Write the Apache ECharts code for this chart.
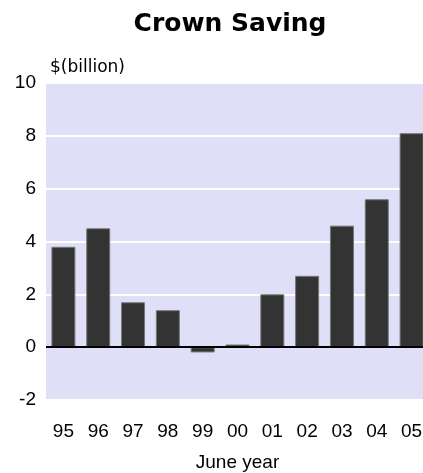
<!DOCTYPE html>
<html lang="en">

<head>
    <meta charset="UTF-8">
    <title>Crown Saving</title>
    <style>
        html, body { margin: 0; padding: 0; background: #fff; }
        #box { width: 423px; height: 473px; }
    </style>
    <script src="https://cdn.jsdelivr.net/npm/echarts@6/dist/echarts.min.js"></script>
</head>

<body>
    <div id="box"></div>
    <script>
        // June years and Crown saving ($billion)
        const years = ['95', '96', '97', '98', '99', '00', '01', '02', '03', '04', '05'];
        const saving = [3.8, 4.5, 1.7, 1.4, -0.2, 0.1, 2.0, 2.7, 4.6, 5.6, 8.1];
        const yTicks = { min: -2, max: 10, step: 2 };

        (function () {
            let chart = echarts.init(box);
            let font = '"Liberation Sans", Arial, sans-serif';

            let option = {
                animation: false,
                title: [{
                    text: 'Crown Saving',
                    left: 225,
                    textAlign: 'center',
                    top: 7,
                    textStyle: { fontFamily: '"DejaVu Sans", sans-serif', fontSize: 25, fontWeight: 'bold', color: '#000' }
                }, {
                    text: '$(billion)',
                    left: 45,
                    top: 54,
                    textStyle: { fontFamily: '"DejaVu Sans", sans-serif', fontSize: 17, fontWeight: 'normal', color: '#000' }
                }],
                grid: {
                    left: 46, right: -6, top: 83, bottom: 73,
                    outerBoundsMode: 'none',
                    containLabel: false,
                    show: true, backgroundColor: '#dfdff7', borderWidth: 0
                },
                xAxis: {
                    type: 'category',
                    data: years,
                    axisLine: { show: false, onZero: false },
                    axisTick: { show: false },
                    axisLabel: { margin: 22, fontSize: 19, color: '#000', fontFamily: font },
                    name: 'June year',
                    nameLocation: 'middle',
                    nameGap: 53,
                    nameTextStyle: { fontSize: 19, color: '#000', fontFamily: font }
                },
                yAxis: {
                    type: 'value',
                    min: yTicks.min, max: yTicks.max, interval: yTicks.step,
                    axisLine: { show: false },
                    axisTick: { show: false },
                    axisLabel: { margin: 10, fontSize: 19, color: '#000', fontFamily: font },
                    splitLine: { lineStyle: { color: '#ffffff', width: 2 } }
                },
                series: [{
                    type: 'bar',
                    data: saving,
                    barWidth: 24,
                    itemStyle: { color: '#333333', borderColor: '#777777', borderWidth: 1 },
                    markLine: {
                        silent: true,
                        symbol: 'none',
                        label: { show: false },
                        lineStyle: { color: '#000', width: 2, type: 'solid' },
                        data: [{ yAxis: 0 }]
                    }
                }]
            };

            chart.setOption(option);
        })();
    </script>
</body>

</html>
